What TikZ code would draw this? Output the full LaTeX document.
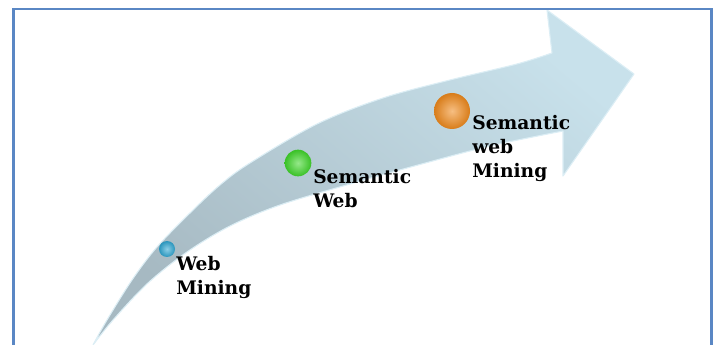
\documentclass[tikz,border=0pt]{standalone}
\usepackage{fontspec}
\setmainfont{DejaVu Serif}
\definecolor{framecol}{HTML}{5A87C4}
\definecolor{arrowdark}{HTML}{A6B9C2}
\definecolor{arrowlight}{HTML}{C8E1EB}
\definecolor{arrowedge}{HTML}{DCEEF5}
\definecolor{ballblue}{HTML}{2FA6D2}
\definecolor{ballgreen}{HTML}{3FD62A}
\definecolor{ballorange}{HTML}{F08A1C}
\begin{document}
\begin{tikzpicture}[x=0.75pt,y=-0.75pt,
  lbl/.style={font=\fontsize{14}{18}\selectfont\bfseries, align=left, anchor=base west, inner sep=0pt},
  sphere/.style={circle, inner sep=0pt, shading=radial},
  framestyle/.style={draw=framecol, line width=1.6pt}]
\useasboundingbox (0,0) rectangle (717,345);
\fill[white] (0,0) rectangle (717,345);
% curved arrow
\shade[top color=arrowlight, bottom color=arrowdark, shading angle=-40, draw=arrowedge, line width=0.8pt, line join=round]
  plot[smooth, tension=0.55] coordinates {(93,345) (107,320) (132,280) (157,247) (190,213) (220,185) (250,163) (317,124) (383,98) (450,80) (517,64) (552,53)}
  -- (547,10) -- (634,74) -- (563,176) -- (563,131)
  -- plot[smooth, tension=0.55] coordinates {(563,131) (490,146) (418,165) (350,184) (280,205) (230,226) (187,252) (148,283) (113,320) (93,345)}
  -- cycle;
% frame
\draw[framestyle] (13.5,347) -- (13.5,9) -- (711.5,9) -- (711.5,347);
% spheres
\node[sphere, minimum size=12pt, inner color=ballblue!55!white, outer color=ballblue!90!black] (s1) at (167,249) {};
\node[sphere, minimum size=20pt, inner color=ballgreen!55!white, outer color=ballgreen!90!black] (s2) at (298,163) {};
\node[sphere, minimum size=27pt, inner color=ballorange!55!white, outer color=ballorange!90!black] (s3) at (452,111) {};
% labels
\node[lbl] (t1) at (176,295) {Web\\Mining};
\node[lbl] (t2) at (313,208) {Semantic\\Web};
\node[lbl] (t3) at (472,178) {Semantic\\web\\Mining};
\end{tikzpicture}
\end{document}
